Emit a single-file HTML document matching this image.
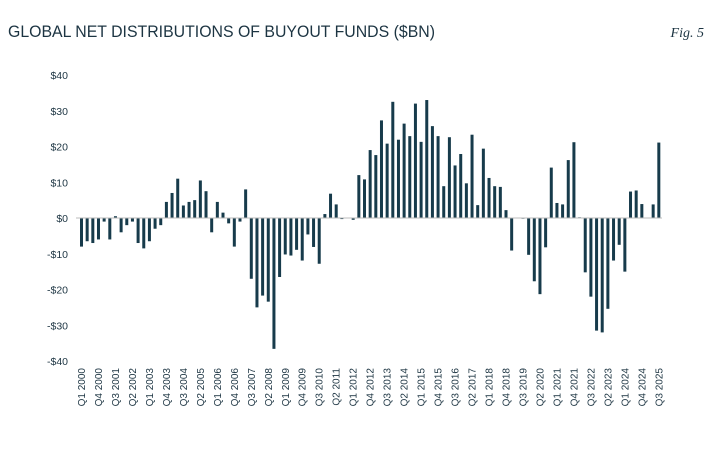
<!DOCTYPE html>
<html><head><meta charset="utf-8"><style>
body{margin:0;background:#fff;width:715px;height:449px;overflow:hidden;font-family:"Liberation Sans",sans-serif}
</style></head><body>
<svg width="715" height="449">
<text x="8" y="37" font-size="16.5" fill="#1c3442" textLength="427" lengthAdjust="spacingAndGlyphs">GLOBAL NET DISTRIBUTIONS OF BUYOUT FUNDS ($BN)</text>
<text x="704" y="37" font-size="14" font-style="italic" font-family="Liberation Serif,serif" text-anchor="end" fill="#1c3442">Fig. 5</text>
<g id="yaxis"></g>
<g id="bars"></g>
<line id="zero" stroke="#bbb" stroke-width="1"></line>
<g id="xaxis"></g>
</svg>
<script>
const values=[-8,-6.5,-7,-6,-1,-6,0.5,-4,-2,-1,-7,-8.5,-6.5,-3,-2,4.5,7,11,3.5,4.5,5,10.5,7.5,-4,4.5,1.5,-1.5,-8,-1,8,-17,-25,
-21.7,-23.4,-36.6,-16.5,-10.2,-10.5,-8.9,-11.9,-4.6,-8.1,-12.8,1.1,6.8,3.8,-0.3,0,-0.5,12,10.8,19,17.6,27.3,20.8,32.5,21.9,26.4,22.9,32,21.3,33,25.7,22.9,8.9,22.6,14.7,17.9,
9.7,23.3,3.6,19.4,11.2,8.9,8.7,2.2,-9.1,0,-0.2,-10.3,-17.7,-21.3,-8.2,14.1,4.2,3.8,16.2,21.2,0.2,-15.2,-22,-31.5,-32,-25.4,-11.9,-7.5,-15,7.4,7.7,3.9,0,3.8,21.1];
const yTicks=[40,30,20,10,0,-10,-20,-30,-40];
const yTickLabels=["$40","$30","$20","$10","$0","-$10","-$20","-$30","-$40"];
const NS="http://www.w3.org/2000/svg";
const y0=218,ppu=3.575,x0=81.5,step=5.66;
const y=v=>y0-v*ppu, x=i=>x0+i*step;
function mk(t,a,p){const e=document.createElementNS(NS,t);for(const k in a)e.setAttribute(k,a[k]);p.appendChild(e);return e;}
const ya=document.getElementById('yaxis');
yTicks.forEach((t,i)=>{const e=mk('text',{x:68,y:y(t)+4,'font-size':10.5,'text-anchor':'end',fill:'#1c3442'},ya);


e.textContent=yTickLabels[i];});
const z=document.getElementById('zero');z.setAttribute('x1',76);z.setAttribute('x2',662);z.setAttribute('y1',y0);z.setAttribute('y2',y0);
const bg=document.getElementById('bars');
values.forEach((v,i)=>{const top=Math.min(y(v),y0),h=Math.abs(y(v)-y0);
const r=mk('rect',{x:x(i)-1.5,y:top,width:3,height:Math.max(h,0.01),fill:'#173b4b'},bg);

});
const xa=document.getElementById('xaxis');
for(let i=0;i<values.length;i+=3){const yr=2000+Math.floor(i/4),q=i%4+1;
const e=mk('text',{transform:`translate(${x(i)+3.5},368) rotate(-90)`,'font-size':10,'text-anchor':'end',fill:'#1c3442'},xa);


e.textContent='Q'+q+' '+yr;}
</script>
</body></html>
